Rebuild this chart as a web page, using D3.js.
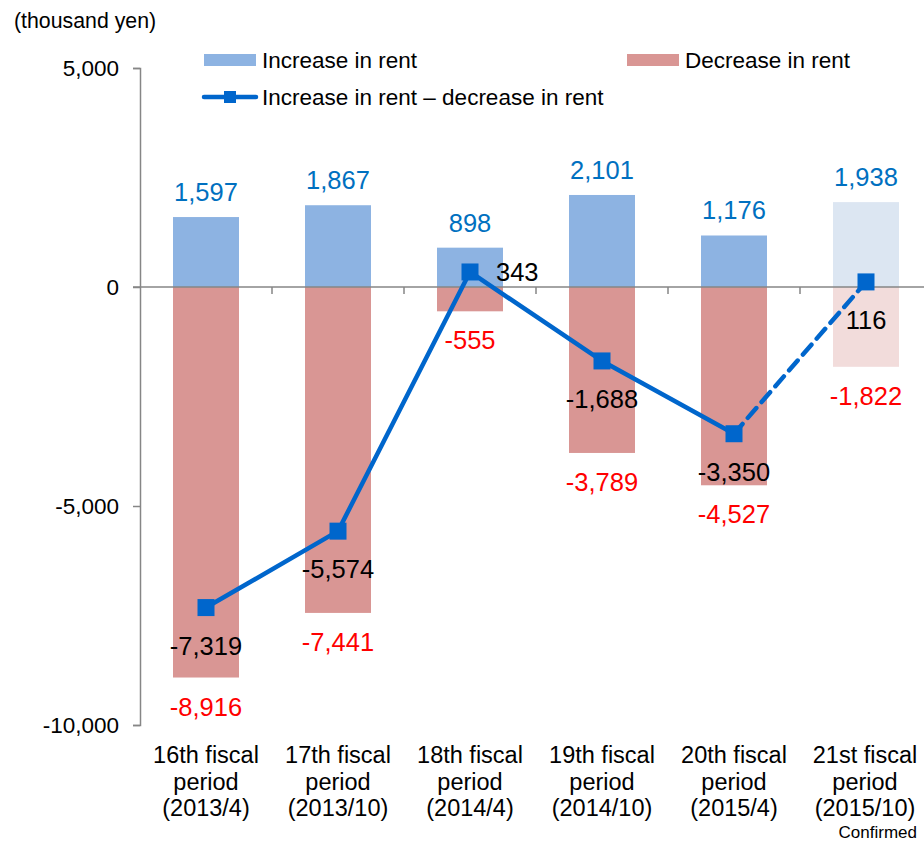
<!DOCTYPE html>
<html>
<head>
<meta charset="utf-8">
<script src="https://cdn.jsdelivr.net/npm/d3@7"></script>
<style>
html, body { margin: 0; padding: 0; background: #fff; }
svg { display: block; font-family: "Liberation Sans", Arial, sans-serif; }
</style>
</head>
<body>
<svg id="chart" width="924" height="842"></svg>
<script>
const categories = [
  ["16th fiscal", "period", "(2013/4)"],
  ["17th fiscal", "period", "(2013/10)"],
  ["18th fiscal", "period", "(2014/4)"],
  ["19th fiscal", "period", "(2014/10)"],
  ["20th fiscal", "period", "(2015/4)"],
  ["21st fiscal", "period", "(2015/10)"]
];
const increaseValues = [1597, 1867, 898, 2101, 1176, 1938];
const decreaseValues = [-8916, -7441, -555, -3789, -4527, -1822];
const netValues = [-7319, -5574, 343, -1688, -3350, 116];
const yTicks = [5000, 0, -5000, -10000];
const confirmedIndex = 5;

const svg = d3.select("#chart");
const locale = d3.formatLocale({decimal: ".", thousands: ",", grouping: [3], currency: ["", ""], minus: "-"});
const fmt = locale.format(",");

const x = d3.scaleBand().domain(d3.range(categories.length)).range([140, 932]).paddingInner(0.5).paddingOuter(0.25);
const y = d3.scaleLinear().domain([-10000, 5000]).range([725, 68]);
const cx = i => x(i) + x.bandwidth() / 2;

const colInc = "#8DB3E2", colDec = "#D99694";
const colIncF = "#DCE6F2", colDecF = "#F2DCDB";
const lineCol = "#0066CC";

// bars
svg.append("g").selectAll("rect").data(increaseValues).join("rect")
  .attr("x", (d, i) => x(i)).attr("width", x.bandwidth())
  .attr("y", d => y(d)).attr("height", d => y(0) - y(d))
  .attr("fill", (d, i) => i === confirmedIndex ? colIncF : colInc);
svg.append("g").selectAll("rect").data(decreaseValues).join("rect")
  .attr("x", (d, i) => x(i)).attr("width", x.bandwidth())
  .attr("y", y(0)).attr("height", d => y(d) - y(0))
  .attr("fill", (d, i) => i === confirmedIndex ? colDecF : colDec);

// y axis
const yAxis = d3.axisLeft(y).tickValues(yTicks).tickSize(7).tickPadding(14).tickFormat(fmt);
const gy = svg.append("g").attr("transform", "translate(140,0)").call(yAxis);
gy.select(".domain").attr("stroke", "#868686").attr("stroke-width", 1.5);
gy.selectAll(".tick line").attr("stroke", "#868686").attr("stroke-width", 1.5);
gy.selectAll(".tick text").attr("font-size", 22.5).attr("fill", "#000").attr("font-family", "Liberation Sans, Arial, sans-serif");

// zero line (category axis)
svg.append("line").attr("x1", 133).attr("x2", 924).attr("y1", y(0)).attr("y2", y(0))
  .attr("stroke", "#868686").attr("stroke-width", 1.5);
const boundary = i => x(i) + x.bandwidth() + (x.step() - x.bandwidth()) / 2;
svg.append("g").selectAll("line").data(d3.range(0, categories.length)).join("line")
  .attr("x1", boundary).attr("x2", boundary)
  .attr("y1", y(0)).attr("y2", y(0) + 7)
  .attr("stroke", "#868686").attr("stroke-width", 1.5);

// line
const pts = netValues.map((v, i) => [cx(i), y(v)]);
const line = d3.line();
svg.append("path").attr("d", line(pts.slice(0, confirmedIndex)))
  .attr("fill", "none").attr("stroke", lineCol).attr("stroke-width", 4.5).attr("stroke-linejoin", "round");
svg.append("path").attr("d", line(pts.slice(confirmedIndex - 1)))
  .attr("fill", "none").attr("stroke", lineCol).attr("stroke-width", 4.5)
  .attr("stroke-dasharray", "13,8").attr("stroke-linecap", "round");
svg.append("g").selectAll("rect").data(pts).join("rect")
  .attr("x", d => d[0] - 8.5).attr("y", d => d[1] - 8.5).attr("width", 17).attr("height", 17)
  .attr("fill", lineCol);

// labels
const lblSize = 25.5;
svg.append("g").selectAll("text").data(increaseValues).join("text")
  .attr("x", (d, i) => cx(i)).attr("y", d => y(d) - 16)
  .attr("text-anchor", "middle").attr("font-size", lblSize).attr("fill", "#0070C0")
  .text(fmt);
svg.append("g").selectAll("text").data(decreaseValues).join("text")
  .attr("x", (d, i) => cx(i)).attr("y", d => y(d) + 38)
  .attr("text-anchor", "middle").attr("font-size", lblSize).attr("fill", "#FF0000")
  .text(fmt);
svg.append("g").selectAll("text").data(netValues).join("text")
  .attr("x", (d, i) => d > 0 && i !== confirmedIndex ? cx(i) + 26 : cx(i))
  .attr("y", (d, i) => d > 0 && i !== confirmedIndex ? y(d) + 9 : y(d) + 47)
  .attr("text-anchor", (d, i) => d > 0 && i !== confirmedIndex ? "start" : "middle")
  .attr("font-size", lblSize).attr("fill", "#000")
  .text(fmt);

// category labels
const cat = svg.append("g").selectAll("text").data(categories).join("text")
  .attr("text-anchor", "middle").attr("font-size", 23.5).attr("fill", "#000");
cat.selectAll("tspan").data((d, i) => d.map(s => [s, i])).join("tspan")
  .attr("x", d => Math.min(cx(d[1]), 865)).attr("y", (d, j) => 763 + j * 26.5)
  .text(d => d[0]);
svg.append("text").attr("x", 917).attr("y", 838).attr("text-anchor", "end")
  .attr("font-size", 17).attr("fill", "#000").text("Confirmed");

// unit label
svg.append("text").attr("x", 14).attr("y", 28).attr("font-size", 21.3).attr("fill", "#000").text("(thousand yen)");

// legend
const lg = svg.append("g").attr("font-size", 22.5).attr("fill", "#000");
lg.append("rect").attr("x", 204).attr("y", 54).attr("width", 52).attr("height", 12).attr("fill", colInc);
lg.append("text").attr("x", 262).attr("y", 68).text("Increase in rent");
lg.append("rect").attr("x", 627).attr("y", 54).attr("width", 52).attr("height", 12).attr("fill", colDec);
lg.append("text").attr("x", 685).attr("y", 68).text("Decrease in rent");
lg.append("line").attr("x1", 204).attr("x2", 256).attr("y1", 97).attr("y2", 97)
  .attr("stroke", lineCol).attr("stroke-width", 4.5).attr("stroke-linecap", "round");
lg.append("rect").attr("x", 224).attr("y", 91).attr("width", 12).attr("height", 12).attr("fill", lineCol);
lg.append("text").attr("x", 262).attr("y", 105).text("Increase in rent \u2013 decrease in rent");
</script>
</body>
</html>
